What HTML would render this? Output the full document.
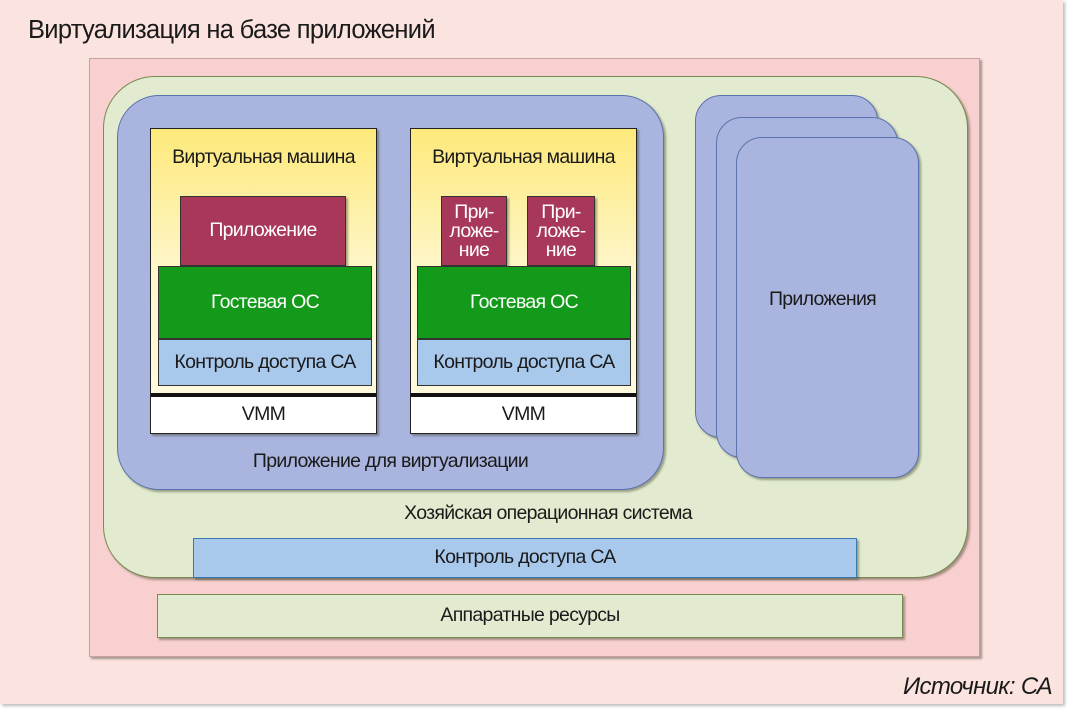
<!DOCTYPE html>
<html><head><meta charset="utf-8"><style>
*{margin:0;padding:0;box-sizing:border-box}
body{width:1070px;height:710px;background:#fff;position:relative;overflow:hidden;font-family:"Liberation Sans","Noto Sans CJK SC",sans-serif;color:#1a1a1a}
div{position:absolute}
.t{display:flex;align-items:center;justify-content:center;text-align:center;font-size:19.5px;letter-spacing:-0.7px;line-height:1}
.sh{box-shadow:2px 2px 2px rgba(60,60,40,.45)}
.vm{background:linear-gradient(#fde97a,#fff6c8 45%,#fffbe6);border:1.5px solid #222}
.app{background:#a8385a;color:#fff;border:1px solid #333}
.os{background:#139a1a;color:#fff;border:1px solid #333}
.ca{background:#a8c8ec;border:1px solid #333}
.stk{background:#a9b5de;border:1.5px solid #5a74b0;border-radius:26px}
</style></head><body>
<div style="left:0;top:0;width:1063px;height:704px;background:#fbe3e0;box-shadow:2px 2px 3px #bbb"></div>
<div class="t" style="left:28px;top:16px;font-size:25.5px;justify-content:flex-start;height:30px">Виртуализация на базе приложений</div>
<div class="sh" style="left:89px;top:58px;width:891px;height:599px;background:#f8d0cf;border:1px solid #c9a0a0"></div>
<div class="sh" style="left:103px;top:76px;width:865px;height:502px;background:#e2ebcf;border:1.5px solid #7a8a50;border-radius:52px"></div>
<div class="sh" style="left:117px;top:95px;width:547px;height:395px;background:#a9b5de;border:1.5px solid #5a74b0;border-radius:42px"></div>
<!-- VM1 -->
<div class="vm sh" style="left:150px;top:128px;width:227px;height:306px"></div>
<div class="t" style="left:150px;top:146px;width:227px;height:24px">Виртуальная машина</div>
<div class="app t sh" style="left:180px;top:196px;width:166px;height:70px">Приложение</div>
<div class="os t" style="left:158px;top:266px;width:214px;height:73px">Гостевая ОС</div>
<div class="ca t" style="left:158px;top:339px;width:214px;height:47px">Контроль доступа СА</div>
<div style="left:151px;top:393px;width:225px;height:4px;background:#111"></div>
<div class="t" style="left:151px;top:397px;width:225px;height:36px;background:#fff">VMM</div>
<!-- VM2 -->
<div class="vm sh" style="left:410px;top:128px;width:227px;height:306px"></div>
<div class="t" style="left:410px;top:146px;width:227px;height:24px">Виртуальная машина</div>
<div class="app t sh" style="left:441px;top:196px;width:66px;height:70px;line-height:19px">При-<br>ложе-<br>ние</div>
<div class="app t sh" style="left:527px;top:196px;width:68px;height:70px;line-height:19px">При-<br>ложе-<br>ние</div>
<div class="os t" style="left:417px;top:266px;width:214px;height:73px">Гостевая ОС</div>
<div class="ca t" style="left:417px;top:339px;width:214px;height:47px">Контроль доступа СА</div>
<div style="left:411px;top:393px;width:225px;height:4px;background:#111"></div>
<div class="t" style="left:411px;top:397px;width:225px;height:36px;background:#fff">VMM</div>
<div class="t" style="left:117px;top:450px;width:547px;height:24px">Приложение для виртуализации</div>
<!-- stacked -->
<div class="stk sh" style="left:695px;top:95px;width:183px;height:343px"></div>
<div class="stk sh" style="left:716px;top:117px;width:182px;height:341px"></div>
<div class="stk sh" style="left:736px;top:137px;width:183px;height:341px"></div>
<div class="t" style="left:750px;top:288px;width:145px;height:24px">Приложения</div>
<div class="t" style="left:103px;top:502px;width:890px;height:24px">Хозяйская операционная система</div>
<div class="t sh" style="left:193px;top:538px;width:664px;height:40px;background:#a8c8ec;border:1px solid #3a7ab0">Контроль доступа СА</div>
<div class="t sh" style="left:157px;top:594px;width:746px;height:44px;background:#e2ebcf;border:1px solid #7a8a50">Аппаратные ресурсы</div>
<div class="t" style="left:890px;top:673px;width:162px;height:28px;font-size:24px;font-style:italic;justify-content:flex-end">Источник: СА</div>
</body></html>
